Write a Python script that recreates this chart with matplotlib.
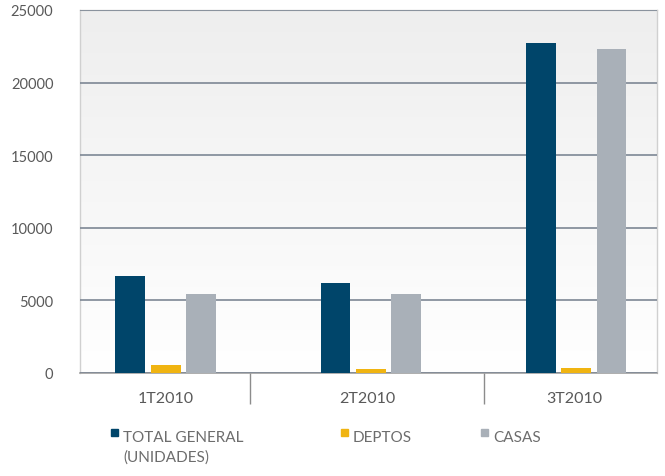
import matplotlib

matplotlib.use("Agg")

import numpy as np
import matplotlib.pyplot as plt
from matplotlib.colors import LinearSegmentedColormap
from matplotlib.patches import Rectangle

quarters = ["1T2010", "2T2010", "3T2010"]
total_general = [6700, 6200, 22700]
deptos = [550, 280, 350]
casas = [5450, 5450, 22300]
series_labels = ["TOTAL GENERAL\n(UNIDADES)", "DEPTOS", "CASAS"]
series_colors = ["#00456a", "#f0b411", "#a9b0b8"]
y_ticks = [0, 5000, 10000, 15000, 20000, 25000]

plt.rcParams["font.family"] = ["Lato", "DejaVu Sans"]
text_color = "#595959"

fig = plt.figure(figsize=(6.65, 4.77), dpi=100)
ax = fig.add_axes([0.120, 0.216, 0.868, 0.761])

# soft vertical gradient behind the bars
grad = np.linspace(0, 1, 256).reshape(-1, 1)
bg_cmap = LinearSegmentedColormap.from_list("bg", ["#ffffff", "#eeeeee"])
ax.imshow(grad, extent=[0, 1, 0, 1], transform=ax.transAxes, cmap=bg_cmap,
          origin="lower", aspect="auto", zorder=0)

x = np.arange(len(quarters))
width = 0.146
step = 0.173
for i, (vals, col) in enumerate(zip([total_general, deptos, casas], series_colors)):
    ax.bar(x + (i - 1) * step, vals, width=width, color=col, zorder=3)

ax.set_xlim(-0.42, 2.395)
ax.set_ylim(0, 25000)
ax.set_yticks(y_ticks)
ax.yaxis.grid(True, color="#7d8794", linewidth=1.2, zorder=1)
ax.set_axisbelow(False)
ax.tick_params(axis="y", length=0, pad=19, labelsize=10.5, labelcolor=text_color)

ax.set_xticks(x - 0.02 * np.array([0, 1, 0.5]))
ax.set_xticklabels(quarters)
ax.tick_params(axis="x", which="major", length=0, pad=13, labelsize=11.5, labelcolor=text_color)
ax.set_xticks([0.41, 1.55], minor=True)
ax.tick_params(axis="x", which="minor", length=22, width=1, color="#8c8c8c")

for side in ["top", "left", "right"]:
    ax.spines[side].set_color("#d0d0d0")
    ax.spines[side].set_linewidth(1.0)
ax.spines["bottom"].set_color("#a0a0a0")
ax.spines["bottom"].set_linewidth(1.2)

# legend below the axes
legend_x = [111, 341, 481]
for lx, lab, col in zip(legend_x, series_labels, series_colors):
    fig.add_artist(Rectangle((lx / 665, 1 - 437 / 477), 7 / 665, 7 / 477,
                             transform=fig.transFigure, color=col))
    fig.text((lx + 12) / 665, 1 - 431 / 477, lab, fontsize=11, color="#6d6d6d",
             va="top", ha="left", linespacing=1.45)

fig.savefig("out.png", dpi=100)
